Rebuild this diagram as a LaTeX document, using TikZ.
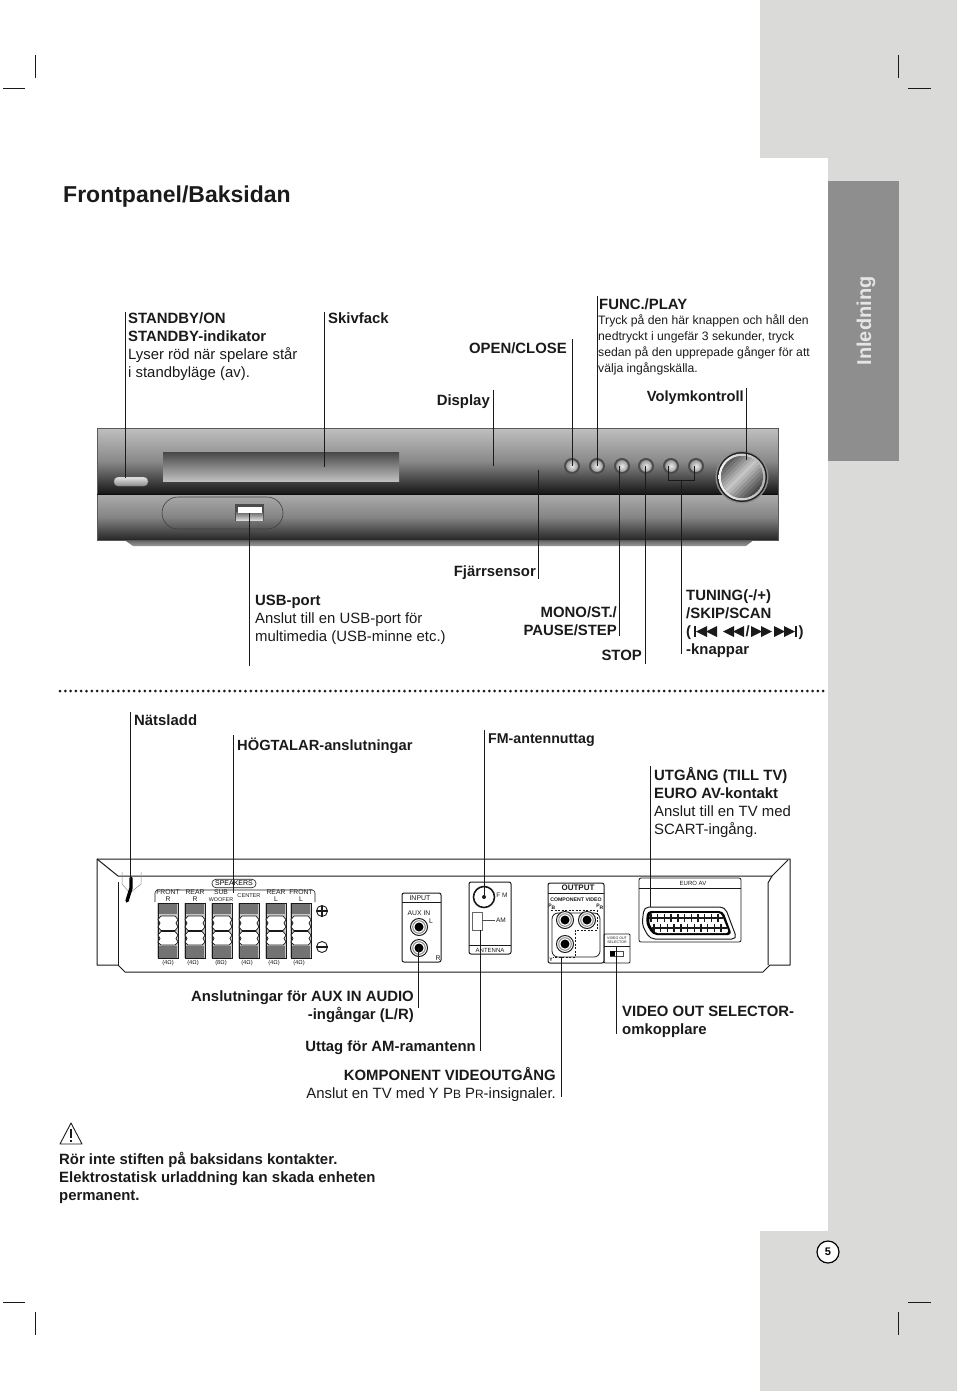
\documentclass[tikz,border=0pt]{standalone}
\usepackage{fontspec}
\usetikzlibrary{shadings}
\setmainfont{Liberation Sans}
\definecolor{band}{HTML}{DADAD9}
\definecolor{tab}{HTML}{8E8E8E}
\definecolor{ink}{HTML}{1A1A1A}
\newcommand{\fs}[2]{\fontsize{#1}{#2}\selectfont}
\tikzset{
  lead/.style={draw=ink,line width=1pt},
  crop/.style={draw=ink,line width=0.6pt},
  lab/.style={anchor=north west,inner sep=0pt,align=left,text=ink,font=\fs{14.9}{18}},
  labr/.style={anchor=north east,inner sep=0pt,align=right,text=ink,font=\fs{14.9}{18}},
  tiny/.style={inner sep=0pt,text=ink,font=\fs{6.8}{6.8},align=center},
  jackout/.style={circle,draw=ink,line width=1pt,fill=white,minimum size=19pt,inner sep=0pt},
  btn/.style={circle,draw=black!70,line width=2pt,inner color=black!8,outer color=black!45,minimum size=14pt,inner sep=0pt},
}
\begin{document}
\begin{tikzpicture}[x=1pt,y=-1pt]
\useasboundingbox (0,0) rectangle (960,1391);
% page bands
\fill[band] (760,0) -- (957,0) -- (957,1391) -- (760,1391) -- (760,1231) -- (828,1231) -- (828,158) -- (760,158) -- cycle;
\fill[tab] (828,181) rectangle (899,461);
\node[rotate=90,text=white!90!black,font=\fs{20}{22}\bfseries,inner sep=0pt] (tabtxt) at (866,321) {Inledning};
% crop marks
\foreach \a/\b/\c/\d in {3/88/25/88,35/55/35/78,898/55/898/78,908/88/931/88,3/1302/25/1302,35/1312/35/1335,898/1312/898/1335,908/1302/931/1302}
  \draw[crop] (\a,\b) -- (\c,\d);
% title
\node[anchor=west,inner sep=0pt,text=ink,font=\fs{23}{26}\bfseries] (title) at (63,197) {Frontpanel/Baksidan};
% FRONT PANEL
\shade[top color=black!65,bottom color=black!40] (123,539) -- (755,539) -- (746,546) -- (133,546) -- cycle;
\shade[top color=black!33,bottom color=black!85,middle color=black!48] (97,494) rectangle (778,540);
\shade[top color=black!25,bottom color=black!92,middle color=black!46] (97,428) rectangle (778,494);
\draw[black!65,line width=0.7pt] (97,428) rectangle (778,540);
\draw[black!95,line width=1pt] (97,494) -- (778,494);
\shade[top color=black!72,bottom color=black!25] (163,452) rectangle (399,481);
\shade[top color=white!90!black,bottom color=black!45,draw=black!50,rounded corners=4pt] (114,477) rectangle (148,486);
\draw[black!75,line width=0.6pt,rounded corners=16pt] (162,497) rectangle (283,529);
\fill[black!70] (235,504) rectangle (264,521);
\shade[top color=black!60,bottom color=black!15] (236,512) rectangle (263,520);
\fill[white] (238,507) rectangle (262,513);
\foreach \n/\x in {b1/572,b2/597,b3/622,b4/646,b5/671,b6/696}
  \node[btn] (\n) at (\x,466) {};
\fill[black!45] (742,477) circle (26.5);
\fill[black!88] (742,477) circle (25);
\shade[left color=black!5,right color=black!30] (742,477) circle (23.5);
\begin{scope}
  \clip (742,477) circle (21);
  \fill[black!60] (742,477) circle (21);
  \foreach \d in {-24,-21,...,24} {
    \pgfmathtruncatemacro\kc{22+55*abs(\d+3)/24}
    \fill[black!\kc,rotate around={45:(742,477)}] (712,477+\d) rectangle (772,477+\d+3.3);
  }
\end{scope}
% bracket
\coordinate (brl) at (668,466); \coordinate (brr) at (694,466);
\draw[lead] (brl) -- ++(0,14) -| (brr);
% FRONT LEADERS + LABELS
\node[lab] (standby) at (128,313) {\textbf{STANDBY/ON}\\\textbf{STANDBY-indikator}\\Lyser röd när spelare står\\i standbyläge (av).};
\coordinate (standbytop) at (125,312); \coordinate (standbyend) at (125,478);
\draw[lead] (standbytop) -- (standbyend);
\node[lab] (skiv) at (328,313) {\textbf{Skivfack}};
\coordinate (skivtop) at (324,312); \coordinate (skivend) at (324,467);
\draw[lead] (skivtop) -- (skivend);
\node[labr] (openclose) at (567,342.5) {\textbf{OPEN/CLOSE}};
\coordinate (octop) at (572,339);
\draw[lead] (octop) -- (b1.center);
\node[lab] (func) at (599,298.5) {\textbf{FUNC./PLAY}};
\node[lab,font=\fs{12.2}{16}] (functxt) at (598,314) {Tryck på den här knappen och håll den\\nedtryckt i ungefär 3 sekunder, tryck\\sedan på den upprepade gånger för att\\välja ingångskälla.};
\coordinate (functop) at (597,296);
\draw[lead] (functop) -- (b2.center);
\node[labr] (disp) at (490,394) {\textbf{Display}};
\coordinate (disptop) at (493,390); \coordinate (dispend) at (493,466);
\draw[lead] (disptop) -- (dispend);
\node[labr,font=\fs{14.7}{18}] (vol) at (744,390.5) {\textbf{Volymkontroll}};
\coordinate (voltop) at (746,388); \coordinate (volend) at (746,460);
\draw[lead] (voltop) -- (volend);
\node[labr] (fjarr) at (536,565) {\textbf{Fjärrsensor}};
\coordinate (fjtop) at (538,470); \coordinate (fjend) at (538,579);
\draw[lead] (fjtop) -- (fjend);
\node[lab] (usb) at (255,595) {\textbf{USB-port}\\Anslut till en USB-port för\\multimedia (USB-minne etc.)};
\coordinate (usbtop) at (249,513); \coordinate (usbend) at (249,666);
\draw[lead] (usbtop) -- (usbend);
\node[labr] (mono) at (617,606) {\textbf{MONO/ST./}\\\textbf{PAUSE/STEP}};
\coordinate (monoend) at (619,636);
\draw[lead] (monoend |- b3.center) -- (monoend);
\node[labr] (stop) at (642,650) {\textbf{STOP}};
\coordinate (stopend) at (645,664);
\draw[lead] (stopend |- b4.center) -- (stopend);
\node[lab] (tuning) at (686,589) {\textbf{TUNING(-/+)}\\\textbf{/SKIP/SCAN}};
\node[lab] (parl) at (686,625) {\textbf{(}};
\fill[ink] (694,626) rectangle (696,637);
\fill[ink] (696,631.5) -- (707,626) -- (707,637) -- cycle;
\fill[ink] (706,631.5) -- (717,626) -- (717,637) -- cycle;
\fill[ink] (723,631.5) -- (734,626) -- (734,637) -- cycle;
\fill[ink] (733,631.5) -- (744,626) -- (744,637) -- cycle;
\node[lab] (slash) at (745.5,625) {\textbf{/}};
\fill[ink] (751,626) -- (762,631.5) -- (751,637) -- cycle;
\fill[ink] (761,626) -- (772,631.5) -- (761,637) -- cycle;
\fill[ink] (774,626) -- (785,631.5) -- (774,637) -- cycle;
\fill[ink] (784,626) -- (795,631.5) -- (784,637) -- cycle;
\fill[ink] (795,626) rectangle (797,637);
\node[lab] (parr) at (798.5,625) {\textbf{)}};
\node[lab] (knapp) at (686,643) {\textbf{-knappar}};
\coordinate (tunetop) at (681,480); \coordinate (tuneend) at (681,654);
\draw[lead] (tunetop) -- (tuneend);
% dotted rule
\coordinate (dota) at (60,691); \coordinate (dotb) at (825,691);
\draw[ink,line width=3pt,line cap=round,dash pattern=on 0pt off 5.3pt] (dota) -- (dotb);
% REAR LABELS
\node[lab] (nat) at (134,714) {\textbf{Nätsladd}};
\node[lab,font=\fs{14.7}{18}] (hog) at (237,737.5) {\textbf{HÖGTALAR-anslutningar}};
\node[lab,font=\fs{14.2}{18}] (fm) at (488,733.5) {\textbf{FM-antennuttag}};
\node[lab] (utg) at (654,767) {\textbf{UTGÅNG (TILL TV)}\\\textbf{EURO AV-kontakt}\\Anslut till en TV med\\SCART-ingång.};
\node[labr] (aux) at (414,990) {\textbf{Anslutningar för AUX IN AUDIO}\\\textbf{-ingångar (L/R)}};
\node[labr] (am) at (476,1040) {\textbf{Uttag för AM-ramantenn}};
\node[lab] (vsel) at (622,1005.5) {\textbf{VIDEO OUT SELECTOR-}\\\textbf{omkopplare}};
\node[labr] (komp) at (556,1067.5) {\textbf{KOMPONENT VIDEOUTGÅNG}\\Anslut en TV med Y P{\fs{12}{18}B} P{\fs{12}{18}R}-insignaler.};
% REAR PANEL outline
\draw[ink,line width=1pt,line join=round] (97,859) -- (790,859) -- (790,965) -- (770,965) -- (763,972) -- (125,972) -- (118,965) -- (97,965) -- cycle;
\draw[ink,line width=1pt] (97,859) -- (118,876) -- (772,876) -- (788,860);
\draw[ink,line width=1pt] (118,882) -- (118,965);
\draw[ink,line width=1pt] (772,876) -- (768,883) -- (768,965);
% power cord
\draw[black!45,line width=0.5pt] (122,872) -- (122,884) -- (130,893) -- (141,884) -- (141,872);
\draw[black,line width=3.4pt,line cap=round] (131,878) -- (131,888) -- (127,901);
% speakers
\node[draw=ink,rounded corners=4pt,line width=0.6pt,inner sep=0pt,minimum width=44pt,minimum height=8.5pt,font=\fs{7}{7}] (spk) at (234,883.5) {SPEAKERS};
\draw[ink,line width=0.6pt,rounded corners=3pt] (155,902) -- (155,890) -- (315,890) -- (315,902);
\foreach \x in {157,184,211,238,265,290} {
  \fill[black!22] (\x,903) rectangle (\x+22,958);
  \draw[ink,line width=0.6pt] (\x+1,903) rectangle (\x+21,958);
  \fill[black!55] (\x+2,903.5) rectangle (\x+20,914);
  \fill[black!55] (\x+2,946) rectangle (\x+20,957.5);
  \draw[ink,line width=0.7pt,fill=white] (\x+4,916) -- (\x+18,916) -- (\x+21,919.5) -- (\x+19,923) -- (\x+21,927) -- (\x+18,930.5) -- (\x+4,930.5) -- (\x+1,927) -- (\x+3,923) -- (\x+1,919.5) -- cycle;
  \draw[ink,line width=0.7pt,fill=white] (\x+4,931.5) -- (\x+18,931.5) -- (\x+21,935) -- (\x+19,938.5) -- (\x+21,942) -- (\x+18,945) -- (\x+4,945) -- (\x+1,942) -- (\x+3,938.5) -- (\x+1,935) -- cycle;
}
\node[tiny] (sp1) at (168,896) {FRONT\\R};
\node[tiny] (sp2) at (195,896) {REAR\\R};
\node[tiny] (sp3) at (221,896) {SUB\\{\fs{5.4}{6}WOOFER}};
\node[tiny,font=\fs{5.6}{6}] (sp4) at (249,896) {CENTER};
\node[tiny] (sp5) at (276,896) {REAR\\L};
\node[tiny] (sp6) at (301,896) {FRONT\\L};
\foreach \n/\x/\t in {o1/168/4,o2/193/4,o3/221/8,o4/247/4,o5/274/4,o6/299/4}
  \node[tiny,font=\fs{5.8}{6}] (\n) at (\x,963) {(\t Ω)};
\node[circle,draw=ink,line width=0.9pt,minimum size=11pt,inner sep=0pt] (plus) at (322,911) {};
\draw[ink,line width=1.2pt] (316.5,911) -- (327.5,911) (322,905.5) -- (322,916.5);
\node[circle,draw=ink,line width=0.9pt,minimum size=11pt,inner sep=0pt] (minus) at (322,947) {};
\draw[ink,line width=1.2pt] (316.5,947) -- (327.5,947);
% input
\draw[ink,line width=1pt,rounded corners=2pt] (402,893) rectangle (441,962);
\draw[ink,line width=0.8pt] (402,902) -- (441,902);
\node[tiny,font=\fs{7}{8}] (inp) at (420,898) {INPUT};
\node[tiny] (auxin) at (419,913) {AUX IN};
\node[tiny] (inl) at (431,921) {L};
\node[tiny] (inr) at (438,958) {R};
\foreach \n/\y in {ja/927,jb/948} {
  \node[jackout,minimum size=17pt] (\n) at (419,\y) {};
  \fill[black] (419,\y) circle (4.5);
  \draw[black!45,line width=1pt] (419,\y) circle (6.3);
}
% antenna
\draw[ink,line width=1pt,rounded corners=2pt] (469,882) rectangle (511,954);
\draw[ink,line width=0.8pt] (469,945) -- (511,945);
\node[circle,draw=ink,line width=1.6pt,minimum size=21pt,inner sep=0pt] (fmj) at (484,897) {};
\fill[ink] (484,897) circle (2);
\node[tiny,font=\fs{6.5}{7}] (fmt) at (502,895) {F M};
\draw[black!60,line width=0.6pt] (472,912) rectangle (482,930);
\draw[black!70,line width=0.6pt] (482,920) -- (495,920);
\node[tiny,font=\fs{6.5}{7}] (amt) at (501,920) {AM};
\node[tiny,font=\fs{6}{7}] (ant) at (490,950) {ANTENNA};
\coordinate (amjack) at (480,930);
% output
\draw[ink,line width=1pt,rounded corners=2pt] (548,883) rectangle (604,963);
\draw[ink,line width=0.8pt] (548,893) -- (604,893);
\node[tiny,font=\fs{8}{9}\bfseries] (outp) at (578,888) {OUTPUT};
\node[tiny,font=\fs{5.2}{7}\bfseries] (comp) at (576,900) {COMPONENT VIDEO};
\draw[ink,line width=0.8pt,rounded corners=6pt] (552,957) -- (552,913) -- (600,913) -- (600,957) -- cycle;
\draw[ink,line width=1pt,dash pattern=on 2pt off 1.5pt] (551,910) -- (597,910) -- (597,930) -- (575,930) -- (575,957) -- (553,957);
\node[tiny,font=\fs{5}{6}\bfseries] (pb) at (552,907) {P\textsubscript{B}};
\node[tiny,font=\fs{5}{6}\bfseries] (pr) at (600,907) {P\textsubscript{R}};
\node[tiny,font=\fs{5}{6}\bfseries] (yy) at (551,960) {Y};
\foreach \n/\x/\y in {c1/565/920,c2/587/920,c3/565/944} {
  \node[jackout,minimum size=17pt] (\n) at (\x,\y) {};
  \fill[black] (\x,\y) circle (4.5);
  \draw[black!45,line width=1pt] (\x,\y) circle (6.3);
}
% selector
\draw[ink,line width=0.8pt,rounded corners=1pt] (604,934) rectangle (630,963);
\draw[ink,line width=0.6pt] (604,946) -- (630,946);
\node[tiny,font=\fs{3.6}{4.2}] (selt) at (617,940) {VIDEO OUT\\SELECTOR};
\draw[black!70,line width=0.5pt] (610,951) rectangle (623,956);
\fill[black] (610,951) rectangle (615,956);
\coordinate (selbot) at (616,947);
% euro av
\draw[ink,line width=0.8pt,rounded corners=2pt] (639,878) rectangle (741,942);
\draw[ink,line width=0.7pt] (639,888) -- (741,888);
\node[tiny,font=\fs{6}{7}] (euro) at (693,883) {EURO AV};
\draw[ink,line width=1pt,rounded corners=5pt] (644,907) -- (725,907) -- (737,939) -- (650,939) -- (642,925) -- cycle;
\fill[black,rounded corners=4pt] (647,911) -- (723,911) -- (732,935) -- (653,935) -- (646,924) -- cycle;
\fill[white,rounded corners=3pt] (650,913) -- (721,913) -- (729,933) -- (655,933) -- (649,923) -- cycle;
\foreach \i in {0,...,10} {
  \draw[ink,line width=1.4pt] ({651+6.7*\i},914) -- ++(0,8);
  \draw[ink,line width=1.4pt] ({654+6.7*\i},924) -- ++(0,8);
}
\fill[ink] (649,917) rectangle (723,919);
\fill[ink] (652,927) rectangle (727,929);
% rear leaders
\coordinate (nattop) at (130,712); \coordinate (natend) at (130,880);
\draw[lead] (nattop) -- (natend);
\coordinate (hogtop) at (233,735); \coordinate (hogend) at (233,893);
\draw[lead] (hogtop) -- (hogend);
\coordinate (fmtop) at (484,730);
\draw[lead] (fmtop) -- (fmj.center);
\coordinate (utgtop) at (650,766); \coordinate (utgend) at (650,907);
\draw[lead] (utgtop) -- (utgend);
\coordinate (auxend) at (418,1008); \draw[lead] (auxend |- jb.center) -- (auxend);
\coordinate (amend) at (480,1051); \draw[lead] (amjack) -- (amend);
\coordinate (kompa) at (561,957); \coordinate (kompend) at (561,1097); \draw[lead] (kompa) -- (kompend);
\coordinate (selend) at (616,1034); \draw[lead] (selbot) -- (selend);
% warning
\draw[ink,line width=0.9pt,line join=round] (71,1123) -- (60,1144) -- (82,1144) -- cycle;
\draw[ink,line width=1.2pt] (71,1129) -- (71,1138) (71,1140) -- (71,1142);
\node[lab] (warn) at (59,1152) {\textbf{Rör inte stiften på baksidans kontakter.}\\\textbf{Elektrostatisk urladdning kan skada enheten}\\\textbf{permanent.}};
% page number
\node[circle,draw=black,line width=1.2pt,fill=white,minimum size=22pt,inner sep=0pt,font=\fs{11}{12}\bfseries] (pg) at (828,1252) {5};
\end{tikzpicture}
\end{document}
